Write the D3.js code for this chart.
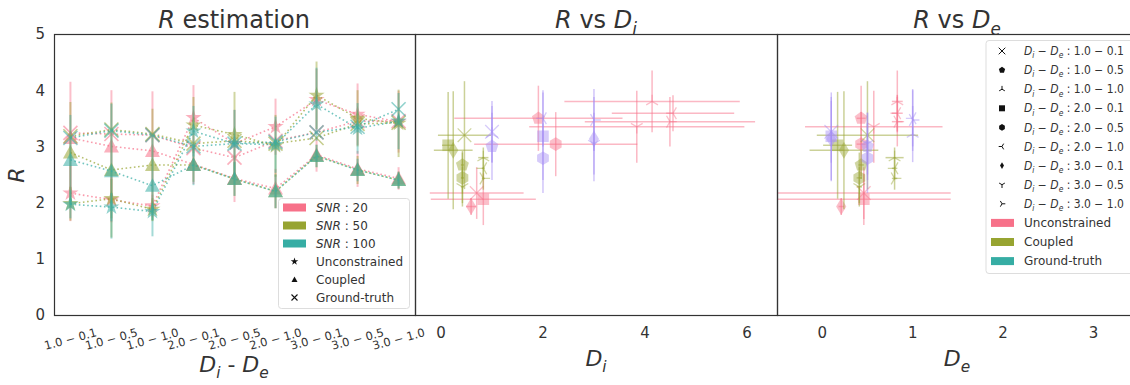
<!DOCTYPE html>
<html><head><meta charset="utf-8">
<script src="https://cdn.jsdelivr.net/npm/d3@7"></script>
<style>body{margin:0;background:#fff;} svg{display:block;font-family:"DejaVu Sans",sans-serif;}</style>
</head><body><svg id="c" width="1130" height="385"></svg>
<script>
// ---------------- DATA ----------------
const categories = ["1.0-0.1","1.0-0.5","1.0-1.0","2.0-0.1","2.0-0.5","2.0-1.0","3.0-0.1","3.0-0.5","3.0-1.0"];
const catTickLabels = ["1.0 − 0.1","1.0 − 0.5","1.0 − 1.0","2.0 − 0.1","2.0 − 0.5","2.0 − 1.0","3.0 − 0.1","3.0 − 0.5","3.0 − 1.0"];
const snrValues = ["20","50","100"];
const yTicks = [0,1,2,3,4,5];
const diTicks = [0,2,4,6];
const deTicks = [0,1,2,3];

// Left panel: R estimation per SNR
const unc20 = [2.17, 2.05, 1.94, 3.51, 3.05, 3.35, 3.83, 3.57, 3.44];
const unc50 = [1.98, 2.07, 1.88, 3.38, 3.21, 3.01, 3.91, 3.50, 3.41];
const unc100 = [1.97, 1.92, 1.84, 3.27, 3.05, 3.03, 3.75, 3.32, 3.45];
const uncErr20 = [0.50, 0.40, 0.20, 0.58, 0.60, 0.50, 0.55, 0.55, 0.55];
const uncErr50 = [0.30, 0.35, 0.20, 0.50, 0.76, 0.55, 0.60, 0.50, 0.60];
const uncErr100 = [0.25, 0.25, 0.15, 0.45, 0.60, 0.50, 0.65, 0.45, 0.50];
const cop20 = [3.15, 3.00, 2.92, 2.68, 2.43, 2.25, 2.85, 2.60, 2.43];
const cop50 = [2.89, 2.58, 2.67, 2.67, 2.42, 2.20, 2.83, 2.58, 2.40];
const cop100 = [2.76, 2.56, 2.30, 2.67, 2.42, 2.20, 2.83, 2.58, 2.40];
const copErr20 = [1.00, 1.00, 1.06, 0.35, 0.42, 0.35, 0.30, 0.32, 0.20];
const copErr50 = [0.90, 1.20, 1.00, 0.30, 0.30, 0.30, 0.20, 0.25, 0.15];
const copErr100 = [0.80, 1.20, 0.90, 0.36, 0.30, 0.30, 0.20, 0.20, 0.15];
const gt20 = [3.24, 3.22, 3.20, 2.97, 2.80, 3.10, 3.25, 3.45, 3.45];
const gt50 = [3.18, 3.30, 3.22, 3.05, 3.10, 3.05, 3.15, 3.40, 3.42];
const gt100 = [3.15, 3.28, 3.20, 3.00, 3.05, 3.08, 3.25, 3.35, 3.66];

// Middle / right panels: per Di-De combination
const uncDi = [0.70, 1.91, 4.14, 0.83, 2.25, 4.55, 0.59, 3.84, 4.49];
const uncDiErr = [0.92, 1.65, 1.72, 1.03, 1.60, 1.20, 0.10, 2.11, 1.67];
const uncDe = [0.46, 0.43, 0.83, 0.46, 0.43, 0.83, 0.21, 0.57, 0.83];
const uncDeErr = [0.96, 0.05, 0.06, 0.96, 0.05, 0.06, 0.03, 0.76, 0.06];
const uncR = [2.17, 3.50, 3.80, 2.06, 3.04, 3.59, 1.93, 3.35, 3.44];
const uncRErr = [0.46, 0.58, 0.55, 0.46, 0.57, 0.32, 0.15, 0.64, 0.44];

const copDi = [0.46, 0.42, 0.83, 0.14, 0.42, 0.83, 0.24, 0.42, 0.83];
const copDiErr = [0.52, 0.03, 0.10, 0.12, 0.03, 0.03, 0.38, 0.03, 0.03];
const copDe = [0.50, 0.43, 0.80, 0.17, 0.41, 0.80, 0.24, 0.41, 0.80];
const copDeErr = [0.56, 0.03, 0.10, 0.16, 0.03, 0.03, 0.38, 0.03, 0.03];
const copR = [3.20, 2.67, 2.80, 3.02, 2.44, 2.61, 2.93, 2.28, 2.43];
const copRErr = [0.96, 0.25, 0.18, 0.95, 0.45, 0.20, 1.05, 0.35, 0.20];

const gtDi = [1.0, 1.0, 1.0, 2.0, 2.0, 2.0, 3.0, 3.0, 3.0];
const gtDe = [0.1, 0.5, 1.0, 0.1, 0.5, 1.0, 0.1, 0.5, 1.0];
const gtR = [3.26, 3.00, 3.22, 3.18, 2.79, 3.50, 3.13, 3.05, 3.47];
const gtRErr = [0.55, 0.60, 0.50, 0.78, 0.62, 0.50, 0.75, 0.55, 0.55];

const methodNames = ["Unconstrained","Coupled","Ground-truth"];

// ---------------- STYLE ----------------
const PINK = "#f77189", OLIVE = "#97a431", TEAL = "#36ada4", PURPLE = "#a48cf4";
const snrColors = [PINK, OLIVE, TEAL];
const comboMarkers = ["x","pentagon","tri_up","square","hexagon","tri_left","thin_diamond","tri_down","tri_right"];
const TXT = "#333";

function poly(n, r, rot) {
  const pts = [];
  for (let k = 0; k < n; k++) {
    const a = rot + k * 2 * Math.PI / n;
    pts.push([r * Math.sin(a), -r * Math.cos(a)]);
  }
  return "M" + pts.map(p => p[0].toFixed(2) + "," + p[1].toFixed(2)).join("L") + "Z";
}
function starPath(r) {
  const pts = [];
  for (let k = 0; k < 10; k++) {
    const rr = k % 2 === 0 ? r : r * 0.382;
    const a = k * Math.PI / 5;
    pts.push([rr * Math.sin(a), -rr * Math.cos(a)]);
  }
  return "M" + pts.map(p => p[0].toFixed(2) + "," + p[1].toFixed(2)).join("L") + "Z";
}
function markerPath(type, r) {
  const c = 0.866 * r, h = 0.5 * r;
  switch (type) {
    case "star": return starPath(r);
    case "tri": return `M0,${-r}L${r},${r*0.8}L${-r},${r*0.8}Z`;
    case "x": return `M${-r},${-r}L${r},${r}M${-r},${r}L${r},${-r}`;
    case "pentagon": return poly(5, r, 0);
    case "hexagon": return poly(6, r, 0);
    case "square": return `M${-r},${-r}H${r}V${r}H${-r}Z`;
    case "thin_diamond": return `M0,${-r}L${r*0.6},0L0,${r}L${-r*0.6},0Z`;
    case "tri_up": return `M0,0V${-r}M0,0L${-c},${h}M0,0L${c},${h}`;
    case "tri_down": return `M0,0V${r}M0,0L${-c},${-h}M0,0L${c},${-h}`;
    case "tri_left": return `M0,0H${-r}M0,0L${h},${-c}M0,0L${h},${c}`;
    case "tri_right": return `M0,0H${r}M0,0L${-h},${-c}M0,0L${-h},${c}`;
  }
}
const stroked = t => t === "x" || t.startsWith("tri_");
function drawMarker(g, type, x, y, r, color, op, sw) {
  const p = g.append("path").attr("d", markerPath(type, r)).attr("transform", `translate(${x},${y})`);
  if (stroked(type)) p.attr("fill", "none").attr("stroke", color).attr("stroke-width", sw || 1.5).attr("stroke-opacity", op);
  else p.attr("fill", color).attr("fill-opacity", op).attr("stroke", "none");
  return p;
}
function rich(sel, parts, baseSize) {
  parts.forEach((p, i) => {
    const ts = sel.append("tspan").text(p.t);
    if (p.it) ts.attr("font-style", "italic");
    if (p.sub) ts.attr("font-size", baseSize * 0.7).attr("dy", baseSize * 0.28).attr("font-style", "italic");
    const prev = parts[i - 1];
    if (prev && prev.sub && !p.sub) ts.attr("dy", -baseSize * 0.28);
  });
  return sel;
}

const svg = d3.select("#c");
const TOP = 34, BOT = 315;
const yR = d3.scaleLinear().domain([0, 5]).range([BOT, TOP]);
const xL = d3.scaleLinear().domain([-0.4, 8.4]).range([54, 415]);
const xM = d3.scaleLinear().domain([-0.51, 6.59]).range([415, 777]);
const xRt = d3.scaleLinear().domain([-0.5, 3.48]).range([777, 1137]);

// ---------------- LEFT PANEL ----------------
const gL = svg.append("g");
const uncAll = [unc20, unc50, unc100], uncErrAll = [uncErr20, uncErr50, uncErr100];
const copAll = [cop20, cop50, cop100], copErrAll = [copErr20, copErr50, copErr100];
const gtAll = [gt20, gt50, gt100];
const line = d3.line().x((d, i) => xL(i)).y(d => yR(d));

snrValues.forEach((s, si) => {
  const col = snrColors[si];
  [[uncAll[si], uncErrAll[si], "star"], [copAll[si], copErrAll[si], "tri"], [gtAll[si], null, "x"]].forEach(([vals, errs, mk]) => {
    if (errs) {
      vals.forEach((v, i) => {
        gL.append("line").attr("x1", xL(i)).attr("x2", xL(i))
          .attr("y1", yR(v - errs[i])).attr("y2", yR(v + errs[i]))
          .attr("stroke", col).attr("stroke-width", 2).attr("stroke-opacity", 0.45);
      });
    }
    gL.append("path").attr("d", line(vals)).attr("fill", "none").attr("stroke", col)
      .attr("stroke-width", 1.6).attr("stroke-opacity", 0.7).attr("stroke-dasharray", "1.6,2.6");
    vals.forEach((v, i) => {
      drawMarker(gL, mk, xL(i), yR(v), mk === "star" ? 8.5 : (mk === "tri" ? 7.5 : 7), col, 0.55, 1.6);
    });
  });
});

// ---------------- MIDDLE & RIGHT PANELS ----------------
function scatterPanel(g, xs, xVals, xErrs, rVals, rErrs, col) {
  xVals.forEach((xv, i) => {
    if (xErrs) g.append("line").attr("x1", xs(xv - xErrs[i])).attr("x2", xs(xv + xErrs[i]))
      .attr("y1", yR(rVals[i])).attr("y2", yR(rVals[i]))
      .attr("stroke", col).attr("stroke-width", 1.5).attr("stroke-opacity", 0.5);
    g.append("line").attr("x1", xs(xv)).attr("x2", xs(xv))
      .attr("y1", yR(rVals[i] - rErrs[i])).attr("y2", yR(rVals[i] + rErrs[i]))
      .attr("stroke", col).attr("stroke-width", 1.5).attr("stroke-opacity", 0.5);
    const mk = comboMarkers[i];
    const r = mk === "square" ? 5.8 : (mk === "thin_diamond" ? 8.5 : 6.8);
    drawMarker(g, mk, xs(xv), yR(rVals[i]), r, col, 0.45, 1.3);
  });
}
svg.append("clipPath").attr("id", "cm").append("rect").attr("x", 415).attr("y", TOP).attr("width", 362).attr("height", BOT - TOP);
svg.append("clipPath").attr("id", "cr").append("rect").attr("x", 777).attr("y", TOP).attr("width", 360).attr("height", BOT - TOP);
const gM = svg.append("g").attr("clip-path", "url(#cm)");
const gR = svg.append("g").attr("clip-path", "url(#cr)");
scatterPanel(gM, xM, uncDi, uncDiErr, uncR, uncRErr, PINK);
scatterPanel(gM, xM, copDi, copDiErr, copR, copRErr, OLIVE);
scatterPanel(gM, xM, gtDi, null, gtR, gtRErr, PURPLE);
scatterPanel(gR, xRt, uncDe, uncDeErr, uncR, uncRErr, PINK);
scatterPanel(gR, xRt, copDe, copDeErr, copR, copRErr, OLIVE);
scatterPanel(gR, xRt, gtDe, null, gtR, gtRErr, PURPLE);

// ---------------- FRAMES ----------------
[[54, 415], [415, 777], [777, 1137]].forEach(([a, b]) => {
  svg.append("rect").attr("x", a + 0.5).attr("y", TOP + 0.5).attr("width", b - a).attr("height", BOT - TOP)
    .attr("fill", "none").attr("stroke", "#333").attr("stroke-width", 1.2);
});

// ---------------- AXES TEXT ----------------
yTicks.forEach(t => {
  svg.append("text").attr("x", 45).attr("y", yR(t)).attr("dy", "0.36em").attr("text-anchor", "end")
    .attr("font-size", 15).attr("fill", TXT).text(t);
});
catTickLabels.forEach((lab, i) => {
  svg.append("text").attr("transform", `translate(${xL(i)},${339}) rotate(-15)`)
    .attr("text-anchor", "middle").attr("dy", "0.35em").attr("font-size", 11.5).attr("fill", TXT).text(lab);
});
diTicks.forEach(t => {
  svg.append("text").attr("x", xM(t)).attr("y", 333).attr("dy", "0.36em").attr("text-anchor", "middle")
    .attr("font-size", 15).attr("fill", TXT).text(t);
});
deTicks.forEach(t => {
  svg.append("text").attr("x", xRt(t)).attr("y", 333).attr("dy", "0.36em").attr("text-anchor", "middle")
    .attr("font-size", 15).attr("fill", TXT).text(t);
});
rich(svg.append("text").attr("transform", "translate(24,175) rotate(-90)").attr("text-anchor", "middle")
  .attr("font-size", 22).attr("fill", TXT), [{t: "R", it: true}], 22);
rich(svg.append("text").attr("x", 234).attr("y", 372).attr("text-anchor", "middle").attr("font-size", 22).attr("fill", TXT),
  [{t: "D", it: true}, {t: "i", sub: true}, {t: " - "}, {t: "D", it: true}, {t: "e", sub: true}], 22);
rich(svg.append("text").attr("x", 596).attr("y", 366).attr("text-anchor", "middle").attr("font-size", 22).attr("fill", TXT),
  [{t: "D", it: true}, {t: "i", sub: true}], 22);
rich(svg.append("text").attr("x", 957).attr("y", 366).attr("text-anchor", "middle").attr("font-size", 22).attr("fill", TXT),
  [{t: "D", it: true}, {t: "e", sub: true}], 22);
rich(svg.append("text").attr("x", 234).attr("y", 28).attr("text-anchor", "middle").attr("font-size", 24).attr("fill", TXT),
  [{t: "R", it: true}, {t: " estimation"}], 24);
rich(svg.append("text").attr("x", 596).attr("y", 28).attr("text-anchor", "middle").attr("font-size", 24).attr("fill", TXT),
  [{t: "R", it: true}, {t: " vs "}, {t: "D", it: true}, {t: "i", sub: true}], 24);
rich(svg.append("text").attr("x", 957).attr("y", 28).attr("text-anchor", "middle").attr("font-size", 24).attr("fill", TXT),
  [{t: "R", it: true}, {t: " vs "}, {t: "D", it: true}, {t: "e", sub: true}], 24);

// ---------------- LEFT LEGEND ----------------
const lg = svg.append("g");
lg.append("rect").attr("x", 278.5).attr("y", 198.5).attr("width", 131).attr("height", 110).attr("rx", 3)
  .attr("fill", "#fff").attr("fill-opacity", 0.85).attr("stroke", "#ddd");
const legRowsY = [207.5, 225.5, 243.5, 261.5, 279.5, 297.5];
snrValues.forEach((s, i) => {
  lg.append("rect").attr("x", 283).attr("y", legRowsY[i] - 4).attr("width", 23).attr("height", 8).attr("fill", snrColors[i]);
  rich(lg.append("text").attr("x", 316).attr("y", legRowsY[i]).attr("dy", "0.36em").attr("font-size", 12).attr("fill", TXT),
    [{t: "SNR", it: true}, {t: " : " + s}], 12);
});
["star", "tri", "x"].forEach((mk, i) => {
  const y = legRowsY[3 + i];
  drawMarker(lg, mk, 294.5, y, mk === "star" ? 4 : 3, "#111", 1, 1.1);
  lg.append("text").attr("x", 316).attr("y", y).attr("dy", "0.36em").attr("font-size", 12).attr("fill", TXT).text(methodNames[i]);
});

// ---------------- RIGHT LEGEND ----------------
const rg = svg.append("g");
rg.append("rect").attr("x", 986).attr("y", 40.5).attr("width", 160).attr("height", 233).attr("rx", 3)
  .attr("fill", "#fff").attr("fill-opacity", 0.85).attr("stroke", "#ddd");
categories.forEach((c, i) => {
  const y = 51 + i * 19.1;
  const mk = comboMarkers[i];
  drawMarker(rg, mk, 1002, y, mk === "square" ? 3 : 3.3, "#111", 1, 1);
  const [a, b] = c.split("-");
  rich(rg.append("text").attr("x", 1024).attr("y", y).attr("dy", "0.36em").attr("font-size", 11.5)
    .attr("textLength", 100).attr("lengthAdjust", "spacingAndGlyphs").attr("fill", TXT),
    [{t: "D", it: true}, {t: "i", sub: true}, {t: " − "}, {t: "D", it: true}, {t: "e", sub: true}, {t: " : " + a + " − " + b}], 11.5);
});
const methodColors = [PINK, OLIVE, TEAL];
methodNames.forEach((m, i) => {
  const y = 51 + (9 + i) * 19.1;
  rg.append("rect").attr("x", 991).attr("y", y - 4).attr("width", 23).attr("height", 8).attr("fill", methodColors[i]);
  rg.append("text").attr("x", 1024).attr("y", y).attr("dy", "0.36em").attr("font-size", 12).attr("fill", TXT).text(m);
});
</script></body></html>
